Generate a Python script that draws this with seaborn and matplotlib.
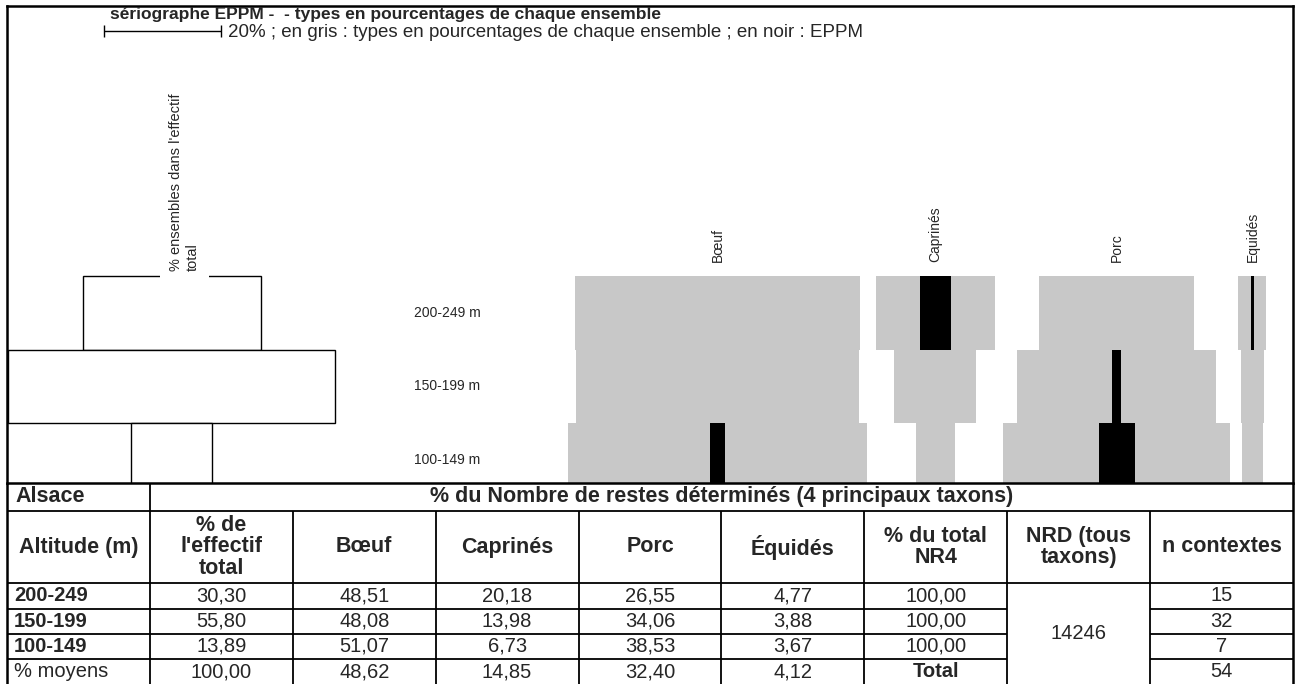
import numpy as np
import pandas as pd
import seaborn as sns
import matplotlib.pyplot as plt

# données (Alsace, % du NRD des 4 principaux taxons)
altitudes = ["200-249", "150-199", "100-149"]
row_labels = ["200-249 m", "150-199 m", "100-149 m"]
effectif = [30.30, 55.80, 13.89]
taxa = ["Bœuf", "Caprinés", "Porc", "Equidés"]
taxa_table = ["Bœuf", "Caprinés", "Porc", "Équidés"]
boeuf = [48.51, 48.08, 51.07]
caprines = [20.18, 13.98, 6.73]
porc = [26.55, 34.06, 38.53]
equides = [4.77, 3.88, 3.67]
moyens = [48.62, 14.85, 32.40, 4.12]
effectif_total = 100.00
total_nr4 = [100.00, 100.00, 100.00]
nrd_total = 14246
n_contextes = [15, 32, 7]
n_contextes_total = 54

df = pd.DataFrame({"altitude": altitudes, "effectif": effectif,
                   "Bœuf": boeuf, "Caprinés": caprines, "Porc": porc, "Équidés": equides})

sns.set_theme(style="white")
plt.rcParams["font.family"] = ["Liberation Sans", "DejaVu Sans"]

W, H, DPI = 1296, 684, 100
K = 5.87          # pixels par point de pourcentage
ROW = 73.5        # hauteur d'une ligne du sériographe en pixels
box_l, box_r, box_t, box_b = 7, 1293, 6, 483
row0_top = 276

fig = plt.figure(figsize=(W / DPI, H / DPI), dpi=DPI)

# --- sériographe ---
ax = fig.add_axes([box_l / W, 1 - box_b / H, (box_r - box_l) / W, (box_b - box_t) / H])
ax.set_xlim(0, (box_r - box_l) / K)
ax.set_ylim((box_b - row0_top) / ROW, -(row0_top - box_t) / ROW)
ax.set_xticks([])
ax.set_yticks([])
for s in ax.spines.values():
    s.set_color("black")
    s.set_linewidth(1.8)

y = np.arange(len(df)) + 0.5
eff = df["effectif"].to_numpy()
eff_c = eff.max() / 2 + 0.15
ax.barh(y, eff, left=eff_c - eff / 2, height=1, color="white", edgecolor="black", linewidth=1)
ax.text(eff_c + 2.2, -0.07, "% ensembles dans l'effectif\ntotal", rotation=90, ha="center",
        va="bottom", multialignment="left", fontsize=10.5, zorder=5,
        bbox=dict(facecolor="white", edgecolor="none", pad=7))

for yi, lab in zip(y, row_labels):
    ax.text(69.3, yi, lab, ha="left", va="center", fontsize=10)

gap = 1.5
pos = 95.5
for name, col, mean in zip(taxa, taxa_table, moyens):
    v = df[col].to_numpy()
    c = pos + v.max() / 2
    pos += v.max() + gap
    ax.barh(y, v, left=c - v / 2, height=1, color="#c8c8c8", linewidth=0)
    dev = np.clip(v - mean, 0, None)
    ax.barh(y, dev, left=c - dev / 2, height=1, color="black", linewidth=0)
    ax.text(c, -0.19, name, rotation=90, ha="center", va="bottom", fontsize=10)

# échelle 20 %
sb_x0 = (104 - box_l) / K
sb_y = (31 - row0_top) / ROW
ax.errorbar(sb_x0 + 10, sb_y, xerr=10, color="black", linewidth=1, capsize=4, capthick=1)
fig.text(228 / W, 1 - 37 / H,
         "20% ; en gris : types en pourcentages de chaque ensemble ; en noir : EPPM",
         va="baseline", fontsize=13.5)
fig.text(110 / W, 1 - 19.5 / H, "sériographe EPPM -  - types en pourcentages de chaque ensemble",
         va="baseline", fontsize=12.5, fontweight="bold")

# --- tableau ---
tax = fig.add_axes([box_l / W, 0, (box_r - box_l) / W, (H - box_b) / H])
tax.set_xlim(0, 9)
tax.set_ylim(H - box_b, 0)
tax.axis("off")

edges = np.cumsum([0, 27.7, 72.6, 25.2, 25.2, 25.2, 25.3])
lw = 1.3
tax.vlines([0, 9], 0, H - box_b, color="black", linewidth=1.8, clip_on=False)
tax.vlines(1, 0, H - box_b, color="black", linewidth=lw)
tax.vlines(np.arange(2, 9), edges[1], H - box_b, color="black", linewidth=lw)
tax.hlines(edges[1:3], 0, 9, color="black", linewidth=lw)
tax.hlines(edges[3:6], 0, 7, color="black", linewidth=lw)
tax.hlines(edges[3:6], 8, 9, color="black", linewidth=lw)

fs_h, fs_d = 15.5, 14.5
mid = lambda i: (edges[i] + edges[i + 1]) / 2
tax.text(0.06, mid(0), "Alsace", ha="left", va="center", fontsize=fs_h, fontweight="bold")
tax.text(5, mid(0), "% du Nombre de restes déterminés (4 principaux taxons)",
         ha="center", va="center", fontsize=fs_h, fontweight="bold")

headers = ["Altitude (m)", "% de\nl'effectif\ntotal"] + taxa_table + \
          ["% du total\nNR4", "NRD (tous\ntaxons)", "n contextes"]
for i, h in enumerate(headers):
    tax.text(i + 0.5, mid(1), h, ha="center", va="center", fontsize=fs_h,
             fontweight="bold", linespacing=1.05)

fmt = lambda v: f"{v:.2f}".replace(".", ",")
for r, row in df.iterrows():
    yy = mid(2 + r)
    tax.text(0.05, yy, row["altitude"], ha="left", va="center", fontsize=fs_d, fontweight="bold")
    cells = [row["effectif"], row["Bœuf"], row["Caprinés"], row["Porc"], row["Équidés"], total_nr4[r]]
    for j, v in enumerate(cells):
        tax.text(j + 1.5, yy, fmt(v), ha="center", va="center", fontsize=fs_d)
    tax.text(8.5, yy, str(n_contextes[r]), ha="center", va="center", fontsize=fs_d)

yy = mid(5)
tax.text(0.05, yy, "% moyens", ha="left", va="center", fontsize=fs_d)
for j, v in enumerate([effectif_total] + moyens):
    tax.text(j + 1.5, yy, fmt(v), ha="center", va="center", fontsize=fs_d)
tax.text(6.5, yy, "Total", ha="center", va="center", fontsize=fs_d, fontweight="bold")
tax.text(8.5, yy, str(n_contextes_total), ha="center", va="center", fontsize=fs_d)
tax.text(7.5, (edges[2] + edges[6]) / 2, str(nrd_total), ha="center", va="center", fontsize=fs_d)

fig.savefig("out.png", dpi=DPI)
